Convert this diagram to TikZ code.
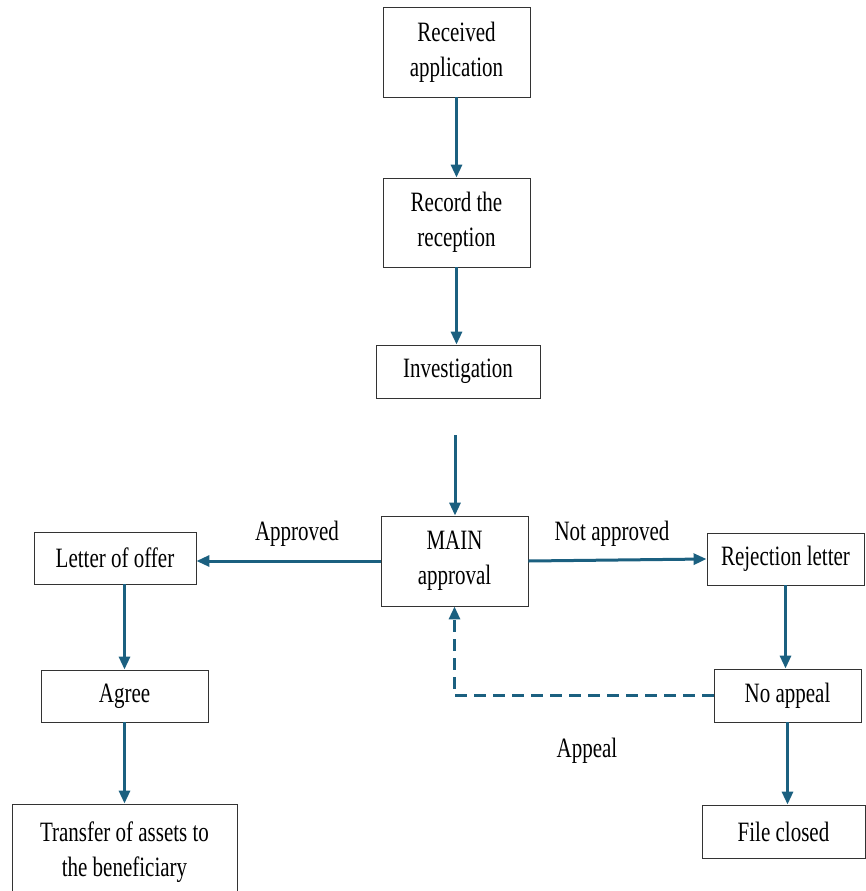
\documentclass[tikz,border=0pt]{standalone}
\usepackage{fontspec}
\setmainfont{Liberation Serif}[FakeStretch=0.75]
\usepackage{xcolor}
\usetikzlibrary{arrows.meta, positioning}
\definecolor{flowblue}{HTML}{1B6080}

\begin{document}
\begin{tikzpicture}[x=1pt,y=-1pt,
  box/.style={draw=black!80, line width=0.9pt, align=center, inner sep=0pt,
    font=\fontsize{28}{35}\selectfont},
  flow/.style={line width=3pt, draw=flowblue, -{Triangle[width=11pt,length=13pt]}},
  lbl/.style={font=\fontsize{28}{35}\selectfont}]
\useasboundingbox (0,0) rectangle (865,891);

% Boxes
\node[box, minimum width=147pt, minimum height=90pt] (recv) at (456.5,52) {Received\\application};
\node[box, minimum width=147pt, minimum height=89pt] (rec) at (456.5,222.5) {Record the\\reception};
\node[box, minimum width=164pt, minimum height=53pt] (inv) at (458,371.5) {Investigation};
\node[box, minimum width=147pt, minimum height=90pt] (main) at (454.5,561) {MAIN\\approval};
\node[box, minimum width=162pt, minimum height=52pt] (offer) at (115,558) {Letter of offer};
\node[box, minimum width=167pt, minimum height=52pt] (agree) at (124.5,696) {Agree};
\node[box, minimum width=225pt, minimum height=96pt] (transfer) at (124.5,852) {Transfer of assets to\\the beneficiary};
\node[box, minimum width=157pt, minimum height=52pt] (rej) at (785.5,559) {Rejection letter};
\node[box, minimum width=147pt, minimum height=53pt] (noap) at (787.5,695.5) {No appeal};
\node[box, minimum width=163pt, minimum height=53pt] (closed) at (783.5,831.5) {File closed};
\coordinate (invout) at (455,435);

% Labels
\node[lbl] (approved) at (297,534) {Approved};
\node[lbl] (notapproved) at (612,534) {Not approved};
\node[lbl] (appeal) at (587,751) {Appeal};

% Connectors
\draw[flow] (recv.south) -- (recv.south |- rec.north);
\draw[flow] (rec.south) -- (rec.south |- inv.north);
\draw[flow] (invout) -- (invout |- main.north);
\draw[flow] (main.west) -- (main.west -| offer.east);
\draw[flow] (main.east) -- (rej.west);
\draw[flow] (agree.north |- offer.south) -- (agree.north);
\draw[flow] (agree) -- (transfer);
\draw[flow] (rej.south) -- (rej.south |- noap.north);
\draw[flow] (noap.south) -- (noap.south |- closed.north);
\draw[flow, dash pattern=on 12pt off 7pt] (noap.west) -- (noap.west -| main.south) -- (main.south);
\end{tikzpicture}
\end{document}
